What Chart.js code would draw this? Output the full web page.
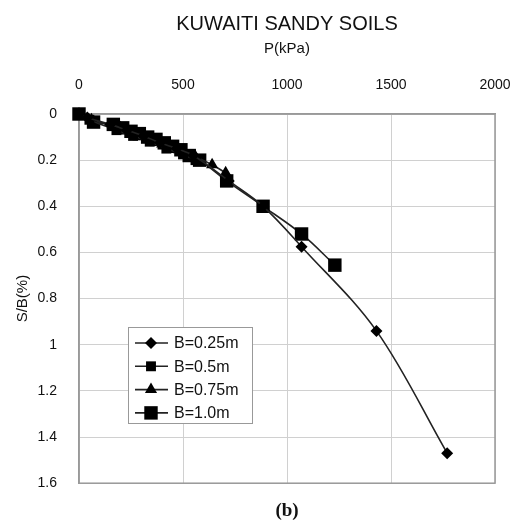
<!DOCTYPE html>
<html>
<head>
<meta charset="utf-8">
<title>KUWAITI SANDY SOILS</title>
<script src="https://cdn.jsdelivr.net/npm/chart.js@4.4.0/dist/chart.umd.min.js"></script>
<style>
    html, body { margin: 0; padding: 0; background: #fff; }
    #wrap { width: 521px; height: 529px; }
</style>
</head>
<body>
<div id="wrap"><canvas id="sbChart" width="521" height="529"></canvas></div>
<script>
// P (kPa) vs S/B (%)
const seriesLabels = ['B=0.25m', 'B=0.5m', 'B=0.75m', 'B=1.0m'];

const p025 = [0, 40, 150, 230, 310, 390, 470, 550, 720, 885, 1070, 1430, 1770];
const s025 = [0, 0.015, 0.045, 0.07, 0.095, 0.125, 0.15, 0.18, 0.29, 0.40, 0.575, 0.94, 1.47];

const p05 = [0, 50, 180, 260, 340, 420, 500, 560];
const s05 = [0, 0.025, 0.07, 0.095, 0.12, 0.15, 0.175, 0.2];

const p075 = [0, 60, 200, 300, 400, 480, 560, 640, 705];
const s075 = [0, 0.025, 0.06, 0.095, 0.13, 0.155, 0.185, 0.22, 0.255];

const p10 = [0, 70, 165, 210, 250, 290, 330, 370, 410, 450, 490, 530, 580, 710, 885, 1070, 1230];
const s10 = [0, 0.035, 0.045, 0.06, 0.075, 0.085, 0.1, 0.11, 0.125, 0.14, 0.155, 0.18, 0.20, 0.29, 0.40, 0.52, 0.655];

const xTicks = [0, 500, 1000, 1500, 2000];
const yTicks = [0, 0.2, 0.4, 0.6, 0.8, 1, 1.2, 1.4, 1.6];

function toPoints(xs, ys) {
    return xs.map(function(x, i) { return { x: x, y: ys[i] }; });
}

function makeSet(label, xs, ys, style, radius) {
    return {
        label: label,
        data: toPoints(xs, ys),
        showLine: true,
        clip: false,
        borderColor: '#222',
        backgroundColor: '#000',
        borderWidth: 1.6,
        tension: 0.35,
        pointStyle: style,
        pointRadius: radius,
        pointBorderWidth: 0,
        pointBackgroundColor: '#000'
    };
}

// legend drawn inside the plot, like the original
const innerLegend = {
    id: 'innerLegend',
    afterDraw: function(chart) {
        const ctx = chart.ctx;
        const area = chart.chartArea;
        const left = area.left + 49;
        const top = area.top + 213;
        const w = 124;
        const h = 96;
        ctx.save();
        ctx.fillStyle = '#fff';
        ctx.fillRect(left, top, w, h);
        ctx.strokeStyle = '#999';
        ctx.lineWidth = 1;
        ctx.strokeRect(left + 0.5, top + 0.5, w, h);
        ctx.font = '16px "Liberation Sans", Arial, sans-serif';
        ctx.textBaseline = 'middle';
        chart.data.datasets.forEach(function(ds, i) {
            const y = top + 16 + i * 23.3;
            ctx.strokeStyle = '#222';
            ctx.lineWidth = 1.6;
            ctx.beginPath();
            ctx.moveTo(left + 7, y);
            ctx.lineTo(left + 40, y);
            ctx.stroke();
            ctx.fillStyle = '#000';
            Chart.helpers.drawPoint(ctx, {
                pointStyle: ds.pointStyle,
                radius: ds.pointRadius,
                rotation: 0,
                borderWidth: 0
            }, left + 23, y);
            ctx.fillStyle = '#111';
            ctx.fillText(ds.label, left + 46, y + 1);
        });
        ctx.restore();
    }
};

new Chart(document.getElementById('sbChart'), {
    type: 'scatter',
    data: {
        datasets: [
            makeSet(seriesLabels[0], p025, s025, 'rectRot', 6),
            makeSet(seriesLabels[1], p05, s05, 'rect', 7),
            makeSet(seriesLabels[2], p075, s075, 'triangle', 7),
            makeSet(seriesLabels[3], p10, s10, 'rect', 9.5)
        ]
    },
    options: {
        responsive: false,
        animation: false,
        layout: { padding: { left: 0, right: 26, top: 0, bottom: 0 } },
        plugins: {
            legend: { display: false },
            tooltip: { enabled: false },
            title: {
                display: true,
                fullSize: false,
                text: 'KUWAITI SANDY SOILS',
                color: '#111',
                font: { family: '"Liberation Sans", Arial, sans-serif', size: 20, weight: 'normal' },
                padding: { top: 12, bottom: 4 }
            },
            subtitle: {
                display: true,
                fullSize: false,
                position: 'bottom',
                text: '(b)',
                color: '#111',
                font: { family: '"Liberation Serif", "Times New Roman", serif', size: 19, weight: 'bold' },
                padding: { top: 16, bottom: 7 }
            }
        },
        scales: {
            x: {
                type: 'linear',
                position: 'top',
                min: 0,
                max: 2000,
                afterBuildTicks: function(scale) {
                    scale.ticks = xTicks.map(function(v) { return { value: v }; });
                },
                afterFit: function(scale) {
                    scale.height = 74;
                    scale.paddingLeft = 0;
                    scale.paddingRight = 0;
                },
                title: {
                    display: true,
                    text: 'P(kPa)',
                    color: '#111',
                    font: { family: '"Liberation Sans", Arial, sans-serif', size: 15 },
                    padding: { top: 0, bottom: 0 }
                },
                ticks: {
                    color: '#111',
                    padding: 20,
                    font: { family: '"Liberation Sans", Arial, sans-serif', size: 14 },
                    callback: function(value) { return String(value); }
                },
                grid: { color: '#d0d0d0', drawTicks: false },
                border: { color: '#999', width: 1.5 }
            },
            y: {
                type: 'linear',
                reverse: true,
                min: 0,
                max: 1.6,
                afterBuildTicks: function(scale) {
                    scale.ticks = yTicks.map(function(v) { return { value: v }; });
                },
                afterFit: function(scale) { scale.width = 79; },
                title: {
                    display: true,
                    text: 'S/B(%)',
                    color: '#111',
                    font: { family: '"Liberation Sans", Arial, sans-serif', size: 15 },
                    padding: { top: 14, bottom: 0 }
                },
                ticks: {
                    color: '#111',
                    padding: 22,
                    font: { family: '"Liberation Sans", Arial, sans-serif', size: 14 },
                    callback: function(value) { return String(Math.round(value * 10) / 10); }
                },
                grid: { color: '#d0d0d0', drawTicks: false },
                border: { color: '#999', width: 1.5 }
            }
        }
    },
    plugins: [innerLegend, {
        id: 'frame',
        beforeDatasetsDraw: function(chart) {
            const a = chart.chartArea;
            const ctx = chart.ctx;
            ctx.save();
            ctx.strokeStyle = '#999';
            ctx.lineWidth = 1.5;
            ctx.strokeRect(a.left, a.top, a.right - a.left, a.bottom - a.top);
            ctx.restore();
        }
    }]
});
</script>
</body>
</html>
